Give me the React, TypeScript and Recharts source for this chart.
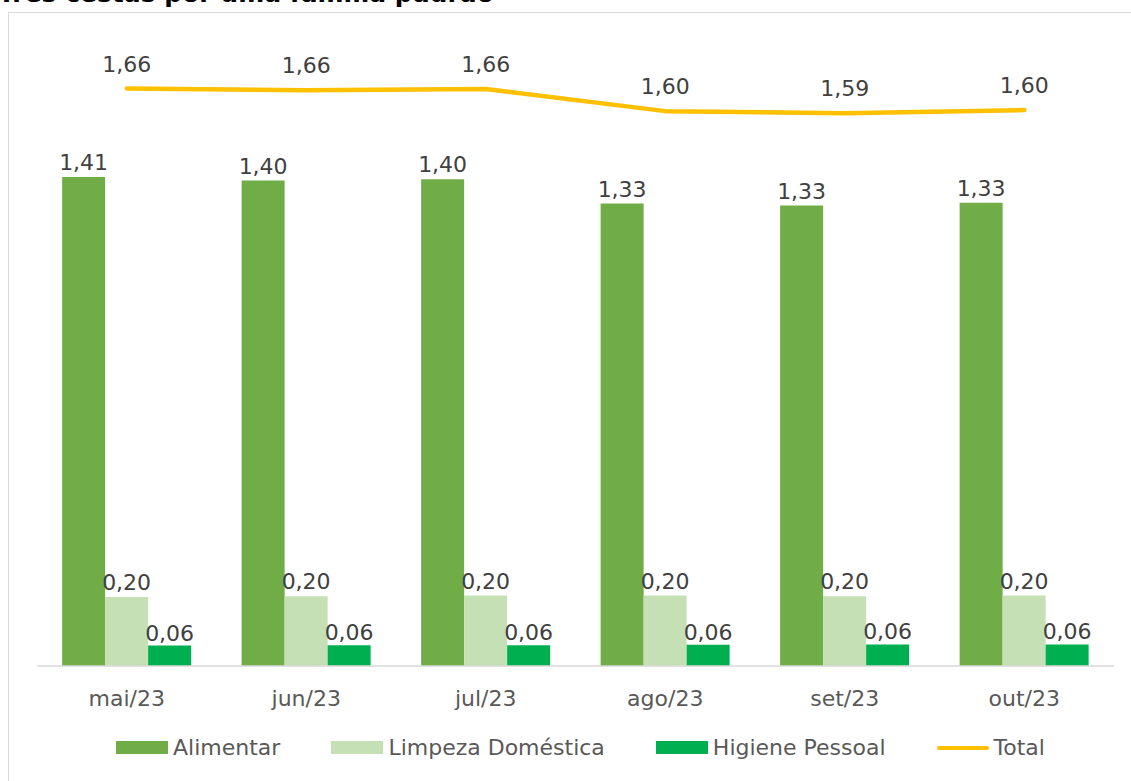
import { ComposedChart, Bar, Line, XAxis, YAxis, Legend, LabelList } from 'recharts'

const months = ['mai/23', 'jun/23', 'jul/23', 'ago/23', 'set/23', 'out/23']
const alimentar = [1.408, 1.398, 1.402, 1.332, 1.326, 1.334]
const limpeza = [0.199, 0.201, 0.203, 0.203, 0.201, 0.203]
const higiene = [0.059, 0.06, 0.06, 0.061, 0.062, 0.062]
const total = [1.663, 1.658, 1.662, 1.598, 1.592, 1.601]
const seriesOrder = ['Alimentar', 'Limpeza Doméstica', 'Higiene Pessoal', 'Total']

const data = months.map((m, i) => ({
  month: m,
  alimentar: alimentar[i],
  limpeza: limpeza[i],
  higiene: higiene[i],
  total: total[i],
}))

const FONT = '"DejaVu Sans", sans-serif'
const fmt = (v: any) => Number(v).toFixed(2).replace('.', ',')

const labelStyle = { fontSize: 22, fill: '#404040', fontFamily: FONT }

function LegendContent({ payload }: any) {
  const items = [...(payload || [])].sort(
    (a: any, b: any) => seriesOrder.indexOf(a.value) - seriesOrder.indexOf(b.value)
  )
  return (
    <div style={{ display: 'flex', justifyContent: 'center', alignItems: 'center', gap: 51, fontFamily: FONT, fontSize: 22, color: '#595959' }}>
      {items.map((p: any) => (
        <div key={p.value} style={{ display: 'flex', alignItems: 'center', gap: 5 }}>
          {p.type === 'line' ? (
            <span style={{ display: 'inline-block', width: 52, height: 4, borderRadius: 2, background: p.color }} />
          ) : (
            <span style={{ display: 'inline-block', width: 52, height: 13, background: p.color }} />
          )}
          <span>{p.value}</span>
        </div>
      ))}
    </div>
  )
}

export default function App() {
  return (
    <div style={{ position: 'fixed', left: 0, top: 0, width: 1131, height: 781, overflow: 'hidden', background: '#fff' }}>
      <div style={{ position: 'absolute', left: -2, top: -21, fontFamily: FONT, fontWeight: 'bold', fontSize: 25, color: '#000', whiteSpace: 'nowrap' }}>
        Três cestas por uma família padrão
      </div>
      <div style={{ position: 'absolute', left: 8, top: 12, width: 1140, height: 800, border: '1.5px solid #D9D9D9' }} />
      <div style={{ position: 'absolute', left: 0, top: 0 }}>
        <ComposedChart
          width={1131}
          height={781}
          data={data}
          margin={{ top: 41, right: 17, left: 37, bottom: 75 }}
          barCategoryGap="14%"
          barGap={0}
        >
          <XAxis
            dataKey="month"
            height={40}
            tickLine={false}
            tickMargin={18}
            axisLine={{ stroke: '#D9D9D9', strokeWidth: 1.5 }}
            tick={{ fontSize: 22, fill: '#595959', fontFamily: FONT }}
          />
          <YAxis hide domain={[0, 1.8]} />
          <Bar dataKey="alimentar" name="Alimentar" fill="#70AD47" isAnimationActive={false}>
            <LabelList dataKey="alimentar" position="top" offset={7} formatter={fmt} style={labelStyle} />
          </Bar>
          <Bar dataKey="limpeza" name="Limpeza Doméstica" fill="#C5E0B4" isAnimationActive={false}>
            <LabelList dataKey="limpeza" position="top" offset={7} formatter={fmt} style={labelStyle} />
          </Bar>
          <Bar dataKey="higiene" name="Higiene Pessoal" fill="#00B050" isAnimationActive={false}>
            <LabelList dataKey="higiene" position="top" offset={5} formatter={fmt} style={labelStyle} />
          </Bar>
          <Line
            type="linear"
            dataKey="total"
            name="Total"
            stroke="#FFC000"
            strokeWidth={4.5}
            strokeLinecap="round"
            strokeLinejoin="round"
            dot={false}
            activeDot={false}
            legendType="line"
            isAnimationActive={false}
          >
            <LabelList dataKey="total" position="top" offset={17} formatter={fmt} style={labelStyle} />
          </Line>
          <Legend
            layout="horizontal"
            verticalAlign="middle"
            align="center"
            content={<LegendContent />}
            wrapperStyle={{ top: 735, left: 42, width: 1077 }}
          />
        </ComposedChart>
      </div>
    </div>
  )
}
